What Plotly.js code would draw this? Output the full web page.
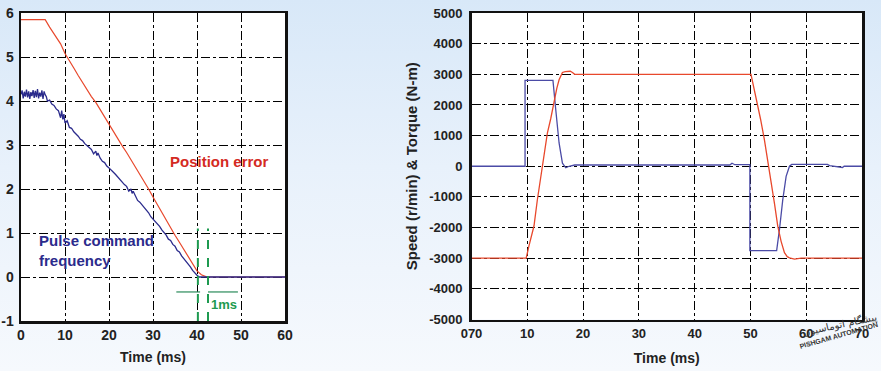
<!DOCTYPE html>
<html><head><meta charset="utf-8">
<script src="https://cdn.plot.ly/plotly-3.0.1.min.js"></script>
<style>
html,body{margin:0;padding:0;width:881px;height:371px;overflow:hidden;background:linear-gradient(to bottom,#d8e8f8 0%,#e8f1fb 45%,#f6f9fd 100%);}
#chart{width:881px;height:371px;}
</style></head><body><div id="chart"></div><script>
// ---------- Left chart: position error vs pulse command frequency ----------
var posErrT = [0, 5.5, 6.5, 8, 9, 10, 11, 12, 13, 14, 15, 16, 17, 18, 19, 20, 21, 22, 23, 24, 25, 26, 27, 28, 29, 30, 31, 32, 33, 34, 35, 36, 37, 38, 39, 40, 41, 42, 43, 60];
var posErrV = [5.85, 5.85, 5.68, 5.44, 5.3, 5.08, 4.93, 4.75, 4.58, 4.42, 4.25, 4.1, 3.97, 3.8, 3.63, 3.48, 3.32, 3.15, 2.98, 2.83, 2.67, 2.5, 2.34, 2.17, 2.0, 1.82, 1.64, 1.47, 1.28, 1.12, 0.95, 0.79, 0.62, 0.45, 0.29, 0.14, 0.05, 0.01, 0, 0];

var pulseT = [0, 0.25, 0.5, 0.75, 1, 1.25, 1.5, 1.75, 2, 2.25, 2.5, 2.75, 3, 3.25, 3.5, 3.75, 4, 4.25, 4.5, 4.75, 5, 5.25, 5.5, 5.75, 6, 6.5, 7, 7.5, 8, 8.5, 9, 9.25, 9.5, 9.75, 10, 10.5, 11, 11.5, 12, 12.5, 13, 13.5, 14, 14.5, 15, 15.5, 16, 16.5, 17, 17.25, 17.5, 18, 18.5, 19, 19.5, 20, 20.5, 21, 21.5, 22, 22.5, 23, 23.5, 24, 24.5, 25, 25.25, 25.5, 26, 26.5, 27, 27.5, 28, 28.5, 29, 29.5, 30, 30.5, 31, 31.5, 32, 32.5, 33, 33.5, 34, 34.5, 35, 35.5, 36, 36.5, 37, 37.5, 38, 38.5, 39, 39.5, 40, 40.5, 60];
var pulseV = [4.15, 4.24, 4.06, 4.21, 4.1, 4.26, 4.08, 4.22, 4.05, 4.2, 4.11, 4.25, 4.07, 4.23, 4.09, 4.27, 4.06, 4.19, 4.1, 4.24, 4.05, 4.22, 4.14, 4.1, 4.0, 4.02, 3.93, 3.9, 3.82, 3.78, 3.62, 3.78, 3.58, 3.7, 3.5, 3.55, 3.4, 3.38, 3.3, 3.26, 3.2, 3.13, 3.1, 3.03, 2.99, 2.94, 2.9, 2.8, 2.86, 2.76, 2.82, 2.7, 2.63, 2.6, 2.52, 2.48, 2.42, 2.38, 2.33, 2.27, 2.22, 2.16, 2.1, 2.06, 1.95, 2.0, 1.9, 1.95, 1.83, 1.74, 1.7, 1.64, 1.58, 1.52, 1.46, 1.37, 1.32, 1.27, 1.2, 1.15, 1.07, 1.02, 0.95, 0.86, 0.83, 0.74, 0.7, 0.6, 0.57, 0.48, 0.42, 0.36, 0.28, 0.23, 0.15, 0.09, 0.04, 0.0, 0.0];

// 1 ms settling markers
var settleT = [40.2, 42.5];
var settleTop = 1.1;
var settleBottom = -1;
var arrowLeftT = [35.3, 40.7];
var arrowRightT = [42.5, 49.3];
var arrowV = -0.34;

var leftXTicks = [0, 10, 20, 30, 40, 50, 60];
var leftYTicks = [-1, 0, 1, 2, 3, 4, 5, 6];
var leftYTickText = ['-1', '0', '1', '2', '3', '4', '5', '6'];

// ---------- Right chart: speed and torque ----------
var speedT = [0, 9.8, 10.3, 10.8, 11.2, 11.8, 12.4, 13.0, 13.6, 14.2, 14.8, 15.3, 15.7, 16.3, 16.8, 17.2, 17.7, 18.1, 18.5, 50.1, 51.0, 51.8, 52.5, 53.1, 53.7, 54.3, 54.9, 55.5, 56.1, 56.6, 57.0, 57.9, 59.1, 70];
var speedV = [-3000, -3000, -2600, -2250, -1950, -1100, -330, 400, 1080, 1550, 2170, 2550, 2820, 3060, 3090, 3100, 3100, 3060, 3000, 3000, 2280, 1550, 870, 200, -430, -1200, -1950, -2450, -2820, -2950, -2990, -3030, -3000, -3000];

var torqueT = [0, 9.6, 9.6, 14.6, 15.1, 15.7, 16.3, 16.9, 17.5, 18.5, 46.3, 46.7, 47.2, 49.9, 49.9, 54.7, 55.2, 55.8, 56.4, 57.0, 57.4, 63.8, 64.2, 65.0, 66.5, 66.8, 70];
var torqueV = [0, 0, 2800, 2800, 1850, 760, 100, -50, 0, 40, 40, 100, 50, 50, -2750, -2750, -2070, -1090, -330, 0, 60, 60, 20, 0, -40, 0, 0];

var rightXTicks = [0, 10, 20, 30, 40, 50, 60, 70];
var rightXTickText = ['070', '10', '20', '30', '40', '50', '60', '70'];
var rightYTicks = [-5000, -4000, -3000, -2000, -1000, 0, 1000, 2000, 3000, 4000, 5000];
var rightYTickText = ['-5000', '-4000', '-3000', '-2000', '-1000', '0', '1000', '2000', '3000', '4000', '5000'];

// ---------- styling ----------
var FONT = 'Liberation Sans, Arial, sans-serif';
var tickFontL = {family: FONT, size: 14, color: '#222', weight: 'bold'};
var tickFontR = {family: FONT, size: 13, color: '#222', weight: 'bold'};
var titleFont = {family: FONT, size: 14, color: '#222', weight: 'bold'};
var W = 881, H = 371;

var traces = [
  {x: posErrT, y: posErrV, xaxis: 'x', yaxis: 'y', mode: 'lines', line: {color: '#e8482c', width: 1.2}},
  {x: pulseT, y: pulseV, xaxis: 'x', yaxis: 'y', mode: 'lines', line: {color: '#2b2b8c', width: 1.3}},
  {x: [settleT[0], settleT[0]], y: [settleBottom, settleTop], xaxis: 'x', yaxis: 'y', mode: 'lines', line: {color: '#1e9a50', width: 2, dash: 'dash'}},
  {x: [settleT[1], settleT[1]], y: [settleBottom, settleTop], xaxis: 'x', yaxis: 'y', mode: 'lines', line: {color: '#1e9a50', width: 2, dash: 'dash'}},
  {x: arrowLeftT, y: [arrowV, arrowV], xaxis: 'x', yaxis: 'y', mode: 'lines', line: {color: '#2a8a5a', width: 1.2}},
  {x: arrowRightT, y: [arrowV, arrowV], xaxis: 'x', yaxis: 'y', mode: 'lines', line: {color: '#2a8a5a', width: 1.2}},
  {x: torqueT, y: torqueV, xaxis: 'x2', yaxis: 'y2', mode: 'lines', line: {color: '#4b4ba6', width: 1.3}},
  {x: speedT, y: speedV, xaxis: 'x2', yaxis: 'y2', mode: 'lines', line: {color: '#e8482c', width: 1.3}}
];

function axisBase() {
  return {
    showgrid: true, gridcolor: '#000', gridwidth: 1, griddash: 'dashdot',
    showline: true, linecolor: '#111', linewidth: 2.5, mirror: true,
    zeroline: false, ticks: '', fixedrange: true
  };
}

var xa = Object.assign(axisBase(), {
  domain: [21 / W, 285 / W], range: [0, 60], tickvals: leftXTicks, tickfont: tickFontL, anchor: 'y',
  title: {text: 'Time (ms)', font: titleFont, standoff: 10}
});
var ya = Object.assign(axisBase(), {
  domain: [1 - 321 / H, 1 - 13 / H], range: [-1, 6], tickvals: leftYTicks, ticktext: leftYTickText, tickfont: tickFontL, anchor: 'x',
  ticklabelstandoff: 2
});
var xa2 = Object.assign(axisBase(), {
  domain: [471.5 / W, 862 / W], range: [0, 70], tickvals: rightXTicks, ticktext: rightXTickText, tickfont: tickFontR, anchor: 'y2',
  title: {text: 'Time (ms)', font: titleFont, standoff: 14}
});
var ya2 = Object.assign(axisBase(), {
  domain: [1 - 319.5 / H, 1 - 13 / H], range: [-5000, 5000], tickvals: rightYTicks, ticktext: rightYTickText, tickfont: tickFontR, anchor: 'x2',
  ticklabelstandoff: 4,
  title: {text: 'Speed (r/min) & Torque (N-m)', font: {family: FONT, size: 15, color: '#222', weight: 'bold'}, standoff: 8}
});

var layout = {
  width: W, height: H,
  margin: {l: 0, r: 0, t: 0, b: 0},
  paper_bgcolor: 'rgba(0,0,0,0)', plot_bgcolor: '#ffffff',
  showlegend: false,
  xaxis: xa, yaxis: ya, xaxis2: xa2, yaxis2: ya2,
  annotations: [
    {xref: 'x', yref: 'y', x: 45, y: 2.62, text: 'Position error', showarrow: false,
     font: {family: FONT, size: 15, color: '#d42a22', weight: 'bold'}},
    {xref: 'x', yref: 'y', x: 3.6, y: 0.61, xanchor: 'left', align: 'left', text: 'Pulse command<br>frequency', showarrow: false,
     font: {family: FONT, size: 15, color: '#2b2b8c', weight: 'bold'}},
    {xref: 'x', yref: 'y', x: 46.2, y: -0.62, text: '1ms', showarrow: false,
     font: {family: FONT, size: 13, color: '#1e9a50', weight: 'bold'}},
    {xref: 'paper', yref: 'paper', x: 840 / W, y: 1 - 325 / H, xanchor: 'center', yanchor: 'middle',
     text: 'پیشگام اتوماسیون', showarrow: false, textangle: -12,
     font: {family: 'DejaVu Sans', size: 10, color: '#333'}},
    {xref: 'paper', yref: 'paper', x: 838 / W, y: 1 - 335 / H, xanchor: 'center', yanchor: 'middle',
     text: 'PISHGAM AUTOMATION', showarrow: false, textangle: -16,
     font: {family: FONT, size: 7, color: '#333', weight: 'bold'}}
  ]
};

Plotly.newPlot('chart', traces, layout, {staticPlot: true, displayModeBar: false});
</script></body></html>
